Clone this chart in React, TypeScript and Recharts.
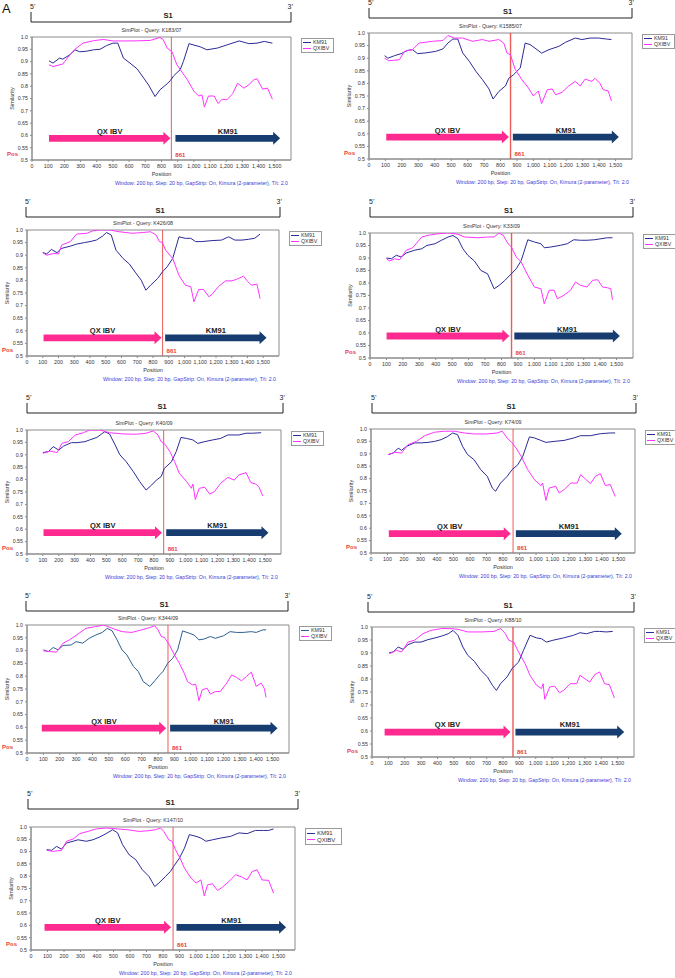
import React from 'react';
import { LineChart, Line, XAxis, YAxis, ReferenceLine, ReferenceArea, Legend } from 'recharts';

type Pt = [number, number];

// ---- data: [position, similarity] ----
const K183_07_KM91: Pt[] = [[105,.903],[130,.894],[170,.914],[190,.91],[235,.928],[265,.948],[295,.94],[335,.942],[380,.948],[420,.95],[460,.965],[500,.975],[530,.975],[565,.914],[605,.894],[650,.87],[690,.833],[720,.805],[760,.758],[790,.785],[835,.81],[855,.823],[875,.842],[915,.867],[935,.9],[970,.973],[1040,.96],[1080,.948],[1145,.955],[1205,.968],[1280,.984],[1340,.973],[1390,.975],[1435,.982],[1485,.975]];
const K183_07_QXIBV: Pt[] = [[105,.887],[130,.88],[190,.89],[235,.928],[265,.95],[315,.975],[380,.985],[440,.99],[500,.984],[625,.984],[730,.986],[790,.998],[810,.99],[835,.955],[865,.94],[895,.887],[960,.826],[1000,.78],[1030,.76],[1050,.765],[1065,.715],[1090,.76],[1125,.76],[1150,.73],[1175,.747],[1205,.745],[1240,.77],[1270,.812],[1310,.792],[1340,.806],[1370,.826],[1390,.83],[1425,.788],[1455,.792],[1485,.747]];

const K1585_07_KM91: Pt[] = [[95,.91],[115,.9],[155,.91],[195,.918],[235,.931],[265,.934],[295,.918],[345,.921],[405,.927],[450,.937],[480,.96],[510,.976],[540,.976],[570,.921],[610,.888],[650,.848],[690,.815],[730,.778],[755,.738],[790,.768],[830,.79],[850,.82],[880,.835],[920,.861],[950,.96],[980,.954],[1010,.94],[1050,.92],[1095,.934],[1155,.947],[1195,.963],[1255,.98],[1295,.974],[1345,.98],[1395,.98],[1445,.976],[1475,.974]];
const K1585_07_QXIBV: Pt[] = [[95,.9],[120,.89],[185,.894],[215,.927],[265,.934],[305,.96],[385,.967],[450,.97],[480,.99],[520,.98],[570,.98],[630,.967],[690,.974],[730,.967],[790,.974],[820,.96],[840,.92],[860,.914],[890,.855],[930,.815],[970,.782],[1000,.75],[1030,.77],[1050,.72],[1085,.775],[1115,.778],[1135,.755],[1175,.765],[1215,.79],[1255,.808],[1285,.79],[1315,.817],[1355,.808],[1375,.82],[1405,.8],[1425,.775],[1455,.77],[1475,.73]];

const K426_08_KM91: Pt[] = [[100,.911],[125,.905],[155,.923],[190,.91],[220,.927],[275,.936],[315,.944],[365,.95],[400,.954],[440,.96],[480,.976],[505,.99],[535,.98],[565,.92],[610,.887],[650,.865],[690,.83],[725,.801],[755,.761],[785,.781],[830,.808],[860,.834],[890,.854],[925,.887],[965,.973],[1005,.967],[1040,.967],[1070,.954],[1110,.954],[1175,.958],[1235,.96],[1280,.973],[1320,.96],[1365,.96],[1405,.963],[1445,.967],[1480,.984]];
const K426_08_QXIBV: Pt[] = [[100,.91],[125,.9],[170,.907],[200,.905],[220,.94],[275,.954],[315,.984],[380,.987],[420,.997],[460,1.0],[525,1.0],[585,.993],[670,.987],[735,.99],[785,.993],[820,.98],[840,.954],[860,.95],[880,.92],[925,.887],[965,.82],[1005,.781],[1040,.775],[1060,.715],[1090,.764],[1120,.764],[1155,.735],[1175,.745],[1215,.775],[1260,.798],[1300,.798],[1330,.804],[1375,.817],[1395,.8],[1425,.781],[1460,.785],[1480,.728]];

const K33_09_KM91: Pt[] = [[100,.9],[130,.897],[160,.911],[190,.904],[220,.92],[270,.931],[315,.937],[345,.95],[395,.957],[435,.971],[475,.984],[505,.99],[535,.977],[565,.937],[595,.911],[635,.888],[675,.85],[715,.837],[755,.777],[785,.79],[820,.81],[860,.837],[890,.857],[920,.89],[960,.973],[1000,.964],[1040,.957],[1060,.941],[1100,.944],[1160,.951],[1200,.957],[1240,.973],[1280,.971],[1320,.971],[1365,.973],[1405,.977],[1445,.981],[1475,.981]];
const K33_09_QXIBV: Pt[] = [[100,.897],[120,.888],[150,.897],[180,.893],[220,.931],[260,.941],[315,.984],[355,.991],[415,.997],[475,1.0],[535,.995],[575,.984],[655,.981],[715,.984],[755,.984],[785,1.0],[810,.991],[840,.957],[860,.944],[890,.904],[920,.884],[960,.831],[1000,.784],[1040,.777],[1050,.747],[1060,.717],[1090,.771],[1120,.771],[1140,.737],[1180,.751],[1220,.771],[1250,.804],[1280,.791],[1320,.784],[1355,.811],[1385,.813],[1415,.784],[1445,.781],[1465,.777],[1475,.733]];

const K40_09_KM91: Pt[] = [[100,.909],[135,.913],[165,.933],[200,.919],[230,.935],[280,.949],[315,.949],[365,.953],[395,.96],[440,.97],[470,.984],[490,.993],[520,.984],[555,.94],[585,.9],[625,.872],[670,.832],[710,.792],[750,.758],[785,.778],[815,.798],[845,.812],[865,.845],[910,.872],[940,.913],[970,.97],[1005,.966],[1045,.96],[1075,.946],[1120,.953],[1170,.96],[1220,.966],[1265,.98],[1305,.98],[1335,.98],[1380,.987],[1420,.987],[1475,.989]];
const K40_09_QXIBV: Pt[] = [[100,.906],[145,.915],[190,.909],[220,.946],[260,.953],[305,.98],[355,.989],[395,1.0],[460,1.0],[520,.989],[605,.984],[690,.983],[750,.987],[795,.996],[825,.98],[845,.953],[865,.946],[900,.913],[930,.872],[960,.825],[1005,.792],[1035,.765],[1045,.782],[1060,.72],[1085,.765],[1120,.769],[1150,.742],[1180,.751],[1220,.785],[1265,.809],[1305,.798],[1335,.819],[1380,.828],[1410,.788],[1440,.782],[1460,.772],[1485,.734]];

const K74_09_KM91: Pt[] = [[105,.897],[135,.903],[165,.923],[185,.914],[215,.93],[265,.944],[305,.944],[345,.946],[385,.95],[425,.957],[465,.97],[495,.984],[525,.977],[555,.93],[585,.897],[625,.876],[665,.836],[705,.809],[735,.762],[755,.749],[785,.782],[825,.809],[855,.836],[890,.856],[920,.89],[960,.968],[990,.964],[1030,.954],[1060,.946],[1110,.95],[1170,.954],[1230,.964],[1270,.973],[1330,.973],[1390,.981],[1450,.984],[1480,.984]];
const K74_09_QXIBV: Pt[] = [[105,.897],[145,.906],[185,.903],[225,.937],[275,.95],[325,.973],[385,.987],[445,.991],[505,.991],[565,.984],[625,.98],[705,.98],[765,.984],[795,.991],[825,.964],[855,.944],[880,.923],[910,.89],[950,.836],[990,.796],[1030,.772],[1040,.782],[1060,.712],[1080,.762],[1120,.769],[1140,.742],[1170,.755],[1210,.782],[1250,.782],[1270,.816],[1300,.798],[1330,.78],[1360,.809],[1390,.82],[1420,.772],[1450,.776],[1480,.728]];

const K344_09_KM91: Pt[] = [[100,.903],[130,.896],[160,.912],[190,.903],[220,.92],[270,.922],[300,.935],[340,.929],[380,.948],[420,.961],[460,.971],[490,.987],[520,.977],[550,.942],[580,.903],[610,.883],[650,.838],[680,.818],[710,.779],[750,.76],[780,.782],[810,.805],[830,.818],[860,.851],[890,.87],[920,.903],[950,.977],[990,.968],[1020,.961],[1050,.942],[1080,.945],[1120,.955],[1150,.948],[1200,.958],[1240,.974],[1280,.971],[1320,.971],[1370,.974],[1400,.971],[1440,.981],[1460,.981]];
const K344_09_QXIBV: Pt[] = [[100,.899],[140,.896],[180,.894],[220,.929],[260,.942],[310,.964],[360,.987],[420,.994],[470,1.0],[520,.987],[580,.974],[640,.971],[700,.981],[750,.99],[780,.997],[800,.981],[820,.955],[840,.951],[870,.922],[900,.883],[930,.851],[960,.812],[980,.779],[1010,.766],[1030,.769],[1050,.704],[1070,.747],[1100,.753],[1120,.73],[1150,.74],[1180,.74],[1220,.773],[1250,.805],[1280,.795],[1310,.782],[1340,.799],[1370,.816],[1400,.76],[1430,.773],[1450,.751],[1460,.717]];

const K88_10_KM91: Pt[] = [[105,.901],[130,.904],[160,.923],[190,.914],[220,.932],[260,.942],[300,.942],[340,.951],[385,.958],[425,.965],[465,.974],[495,.987],[525,.968],[555,.923],[585,.891],[625,.868],[665,.833],[705,.808],[735,.776],[760,.756],[785,.782],[825,.808],[855,.84],[895,.865],[925,.91],[965,.968],[1005,.958],[1035,.955],[1065,.942],[1105,.949],[1170,.958],[1230,.968],[1270,.978],[1310,.974],[1360,.983],[1390,.983],[1430,.981],[1470,.983]];
const K88_10_QXIBV: Pt[] = [[105,.897],[150,.91],[180,.904],[220,.942],[260,.949],[310,.974],[360,.987],[425,.994],[475,.994],[525,.991],[585,.981],[665,.981],[745,.983],[785,.994],[815,.974],[835,.949],[865,.942],[895,.904],[935,.859],[965,.814],[1005,.776],[1035,.763],[1045,.782],[1055,.722],[1085,.769],[1115,.773],[1145,.747],[1170,.756],[1210,.782],[1250,.782],[1270,.814],[1300,.801],[1330,.788],[1360,.817],[1390,.827],[1420,.782],[1450,.778],[1480,.727]];

const K147_10_KM91: Pt[] = [[95,.908],[125,.905],[155,.921],[185,.91],[215,.935],[255,.942],[285,.948],[335,.942],[375,.948],[415,.959],[455,.973],[495,.989],[525,.976],[555,.928],[595,.887],[635,.867],[675,.826],[715,.799],[750,.758],[775,.772],[815,.799],[845,.819],[865,.84],[900,.874],[930,.914],[960,.969],[1000,.962],[1030,.955],[1060,.942],[1100,.948],[1150,.955],[1210,.962],[1260,.976],[1310,.973],[1360,.986],[1410,.986],[1440,.986],[1470,.992]];
const K147_10_QXIBV: Pt[] = [[95,.905],[135,.901],[185,.905],[215,.942],[255,.951],[295,.973],[345,.982],[395,.992],[455,.996],[525,.992],[585,.989],[655,.982],[715,.985],[755,.989],[785,.996],[805,.982],[835,.948],[855,.942],[875,.908],[900,.878],[930,.833],[970,.792],[1000,.772],[1030,.785],[1050,.72],[1070,.765],[1100,.769],[1130,.742],[1160,.755],[1210,.785],[1240,.806],[1280,.796],[1310,.785],[1340,.819],[1370,.826],[1400,.785],[1440,.783],[1470,.731]];

const QUERIES = ['K183/07', 'K1585/07', 'K426/08', 'K33/09', 'K40/09', 'K74/09', 'K344/09', 'K88/10', 'K147/10'];
const KM91_SERIES = [K183_07_KM91, K1585_07_KM91, K426_08_KM91, K33_09_KM91, K40_09_KM91, K74_09_KM91, K344_09_KM91, K88_10_KM91, K147_10_KM91];
const QXIBV_SERIES = [K183_07_QXIBV, K1585_07_QXIBV, K426_08_QXIBV, K33_09_QXIBV, K40_09_QXIBV, K74_09_QXIBV, K344_09_QXIBV, K88_10_QXIBV, K147_10_QXIBV];

// arrow extents (sequence positions) and level (similarity)
const QX_ARROWS: Pt[] = [[105,855],[105,851],[105,854],[101,848],[104,850],[108,847],[90,850],[77,846],[82,849]];
const KM_ARROWS: Pt[] = [[886,1533],[875,1520],[877,1521],[878,1520],[877,1521],[878,1520],[874,1530],[876,1540],[882,1546]];
const ARROW_LEVELS = [0.588, 0.587, 0.572, 0.588, 0.586, 0.578, 0.597, 0.596, 0.592];

const BREAKPOINT = 861;
const X_TICKS = [0,100,200,300,400,500,600,700,800,900,1000,1100,1200,1300,1400,1500];
const Y_TICKS = [0.5,0.55,0.6,0.65,0.7,0.75,0.8,0.85,0.9,0.95,1.0];
const FOOTNOTE = 'Window: 200 bp, Step: 20 bp, GapStrip: On, Kimura (2-parameter), T/t: 2.0';

// ---- layout (pixels) ----
const LAYOUT = [
  { L: 32, T: 37, R: 291, B: 160, bL: 31, bR: 291, bY: 22 },
  { L: 369, T: 33, R: 632, B: 159, bL: 369, bR: 632, bY: 18 },
  { L: 27, T: 230, R: 279, B: 356, bL: 26, bR: 280, bY: 217 },
  { L: 370, T: 233, R: 633, B: 358, bL: 370, bR: 633, bY: 217 },
  { L: 27, T: 430, R: 281, B: 554, bL: 27, bR: 283, bY: 413 },
  { L: 371, T: 429, R: 635, B: 553, bL: 372, bR: 636, bY: 413 },
  { L: 27, T: 625, R: 289, B: 753, bL: 26, bR: 288, bY: 611 },
  { L: 372, T: 627, R: 634, B: 757, bL: 368, bR: 634, bY: 612 },
  { L: 31, T: 827, R: 295, B: 950, bL: 28, bR: 298, bY: 809 },
];

const FONT = '"Liberation Sans", Arial, sans-serif';
const KM_COLOR = '#2b2b98';
const QX_COLOR = '#ff33ff';
const PINK = '#ff2a8f';
const NAVY = '#173d70';
const RED = '#e8403c';

const toObjs = (pts: Pt[]) => pts.map(([x, y]) => ({ x, y }));

const arrowShape = (color: string) => (props: any) => {
  const { x, y, width, height } = props;
  const cy = y + height / 2;
  const sh = 3.4, hh = 6.5, hl = 7;
  const x2 = x + width;
  const xb = x2 - hl;
  return (
    <polygon
      points={`${x},${cy - sh} ${xb},${cy - sh} ${xb},${cy - hh} ${x2},${cy} ${xb},${cy + hh} ${xb},${cy + sh} ${x},${cy + sh}`}
      fill={color}
    />
  );
};

const legendContent = (big: boolean) => (props: any) => {
  const payload = props.payload || [];
  return (
    <div style={{ border: '1px solid #9a9a9a', background: '#fff', width: big ? 33 : 29, padding: '1px 1px', fontFamily: FONT, fontSize: big ? 6 : 5.3, lineHeight: big ? '6.5px' : '5.6px', color: '#333' }}>
      {payload.map((e: any) => (
        <div key={e.value} style={{ display: 'flex', alignItems: 'center', whiteSpace: 'nowrap' }}>
          <span style={{ display: 'inline-block', width: 8, height: 1, background: e.color, marginRight: 2 }} />
          {e.value}
        </div>
      ))}
    </div>
  );
};

const yFmt = (v: number) => (v === 1 ? '1.0' : v === 0.5 ? '0.5' : String(v));
const xFmt = (v: number) => v.toLocaleString('en-US');

function Panel({ i }: { i: number }) {
  const g = LAYOUT[i];
  const ML = 40, MT = 10, MR = 50, MB = 30;
  const width = g.R - g.L + ML + MR;
  const height = g.B - g.T + MT + MB;
  const kmColor = i === 6 ? '#2f5f90' : KM_COLOR;
  const lvl = ARROW_LEVELS[i];
  const arrowLabel = { position: 'top' as const, offset: 2, fontSize: 7.5, fontWeight: 'bold', fill: '#222', fontFamily: FONT };
  return (
    <div style={{ position: 'absolute', left: g.L - ML, top: g.T - MT }}>
      <LineChart width={width} height={height} margin={{ top: MT, right: MR, left: ML - 22, bottom: MB - 14 }} style={{ fontFamily: FONT }}>
        <XAxis type="number" dataKey="x" domain={[0, 1600]} ticks={X_TICKS} tickFormatter={xFmt} allowDataOverflow
          height={14} tickSize={2} tickMargin={2} interval={0}
          tick={{ fontSize: 5.3, fill: '#333' }} axisLine={{ stroke: '#8c8c8c' }} tickLine={{ stroke: '#8c8c8c' }} />
        <YAxis type="number" domain={[0.5, 1]} ticks={Y_TICKS} tickFormatter={yFmt} allowDataOverflow
          width={22} tickSize={2} tickMargin={2} interval={0}
          tick={{ fontSize: 5.3, fill: '#333' }} axisLine={{ stroke: '#8c8c8c' }} tickLine={{ stroke: '#8c8c8c' }} />
        <ReferenceArea x1={0} x2={1600} y1={0.5} y2={1} fill="none" stroke="#8c8c8c" strokeWidth={1} fillOpacity={0} />
        <ReferenceArea x1={QX_ARROWS[i][0]} x2={QX_ARROWS[i][1]} y1={lvl - 0.01} y2={lvl + 0.01}
          shape={arrowShape(PINK)} label={{ value: 'QX IBV', ...arrowLabel }} />
        <ReferenceArea x1={KM_ARROWS[i][0]} x2={KM_ARROWS[i][1]} y1={lvl - 0.01} y2={lvl + 0.01}
          shape={arrowShape(NAVY)} label={{ value: 'KM91', ...arrowLabel }} />
        <ReferenceLine x={BREAKPOINT} stroke={RED} strokeOpacity={0.85} strokeWidth={i === 3 || i === 7 || i === 1 ? 1.4 : 1}
          label={{ value: String(BREAKPOINT), position: 'insideBottomLeft', offset: 3, dx: 1, fontSize: 6, fontWeight: 'bold', fill: RED, fontFamily: FONT }} />
        <Line data={toObjs(KM91_SERIES[i])} dataKey="y" name="KM91" type="linear" stroke={kmColor} strokeWidth={1} dot={false} isAnimationActive={false} />
        <Line data={toObjs(QXIBV_SERIES[i])} dataKey="y" name="QXIBV" type="linear" stroke={QX_COLOR} strokeWidth={1} dot={false} isAnimationActive={false} />
        <Legend layout="vertical" align="center" verticalAlign="middle"
          wrapperStyle={{ left: g.R - g.L + ML + 10, top: MT + 1, width: 'auto', height: 'auto' }}
          content={legendContent(i === 8)} />
      </LineChart>
    </div>
  );
}

function Decor() {
  return (
    <svg width={675} height={978} style={{ position: 'absolute', left: 0, top: 0, pointerEvents: 'none', fontFamily: FONT }}>
      <text x={2} y={13} fontSize={13} fill="#111">A</text>
      {LAYOUT.map((g, i) => {
        const cx = (g.L + g.R) / 2;
        return (
          <g key={i}>
            <path d={`M${g.bL},${g.bY - 10} V${g.bY} H${g.bR} V${g.bY - 10}`} stroke="#222" strokeWidth={1} fill="none" />
            <text x={g.bL - 1} y={g.bY - 13} fontSize={7} fill="#222">5’</text>
            <text x={g.bR + 2} y={g.bY - 13} fontSize={7} fill="#222" textAnchor="end">3’</text>
            <text x={(g.bL + g.bR) / 2 + 7} y={g.bY - 4} fontSize={7.5} fontWeight="bold" fill="#222" textAnchor="middle">S1</text>
            <text x={cx - 10} y={g.T - 5} fontSize={5.3} fill="#333" textAnchor="middle">{`SimPlot - Query: ${QUERIES[i]}`}</text>
            <text x={cx} y={g.B + 16} fontSize={5.5} fill="#333" textAnchor="middle">Position</text>
            <text transform={`translate(${g.L - 19},${(g.T + g.B) / 2}) rotate(-90)`} fontSize={5.5} fill="#333" textAnchor="middle" dominantBaseline="middle">Similarity</text>
            <text x={g.L - 25} y={g.B - 4} fontSize={6} fontWeight="bold" fill={RED}>Pos</text>
            <text x={g.R - 3} y={g.B + 25} fontSize={5} fill="#3b3bd6" textAnchor="end" textLength={173} lengthAdjust="spacingAndGlyphs">{FOOTNOTE}</text>
          </g>
        );
      })}
    </svg>
  );
}

export default function App() {
  return (
    <div style={{ position: 'absolute', left: 0, top: 0, width: 675, height: 978, background: '#fff', overflow: 'hidden' }}>
      {LAYOUT.map((_, i) => <Panel key={i} i={i} />)}
      <Decor />
    </div>
  );
}
